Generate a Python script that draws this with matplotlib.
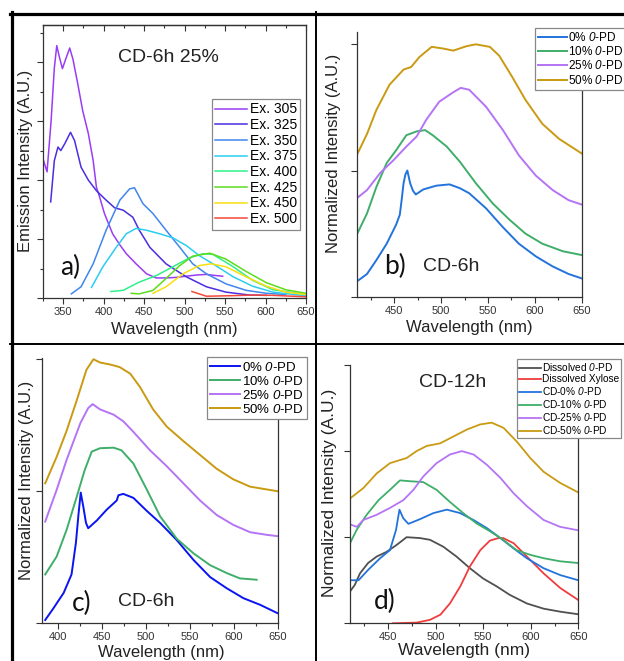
import matplotlib
matplotlib.use('Agg')
import matplotlib.pyplot as plt
from matplotlib.lines import Line2D
from matplotlib.ticker import MultipleLocator

plt.rcParams['font.family'] = ['Liberation Sans', 'DejaVu Sans']
plt.rcParams['mathtext.fontset'] = 'custom'
plt.rcParams['mathtext.rm'] = 'Liberation Sans:italic'
plt.rcParams['mathtext.it'] = 'Liberation Sans:italic'

# ---- panel a: excitation series, CD-6h 25% ----
ex_labels = ['Ex. 305', 'Ex. 325', 'Ex. 350', 'Ex. 375', 'Ex. 400', 'Ex. 425', 'Ex. 450', 'Ex. 500']
ex_colors = ['#9a3cf5', '#4a2ee0', '#3f86ee', '#2ccdf0', '#2ef08a', '#5cdc1e', '#f7df10', '#f4483a']

wl_305 = [325, 330, 335, 339, 342, 345, 349, 353, 358, 362, 368, 374, 381, 387, 391, 395, 401, 411, 420, 428, 440, 453, 465, 477, 490, 502, 515, 527, 539, 547]
em_305 = [2.36, 2.14, 3.0, 3.9, 4.28, 4.1, 3.89, 4.05, 4.24, 4.05, 3.63, 3.18, 2.79, 2.33, 1.88, 1.71, 1.43, 1.09, 0.9, 0.75, 0.58, 0.41, 0.34, 0.34, 0.35, 0.37, 0.39, 0.40, 0.38, 0.37]
wl_325 = [334.5, 339, 343.5, 347, 352, 359, 364, 372, 381, 391, 403, 413.5, 424, 436, 444, 457, 477, 502, 527, 551, 580, 601]
em_325 = [1.63, 2.33, 2.56, 2.50, 2.62, 2.81, 2.67, 2.22, 2.0, 1.82, 1.66, 1.53, 1.49, 1.37, 1.15, 0.86, 0.58, 0.36, 0.19, 0.10, 0.05, 0.045]
wl_350 = [360, 372, 387, 403, 420, 432, 438, 448.5, 461, 477, 494, 510, 527, 551, 576, 601, 625]
em_350 = [0.07, 0.19, 0.58, 1.15, 1.66, 1.85, 1.87, 1.60, 1.43, 1.15, 0.86, 0.58, 0.41, 0.24, 0.13, 0.08, 0.06]
wl_375 = [385, 399, 415.5, 428, 440, 452.6, 469, 485.5, 502, 518, 535, 560, 584, 609, 634, 650]
em_375 = [0.18, 0.53, 0.86, 1.09, 1.18, 1.15, 1.09, 1.02, 0.89, 0.72, 0.58, 0.36, 0.20, 0.10, 0.06, 0.04]
wl_400 = [409, 424, 444, 465, 485.5, 506, 522.5, 535, 560, 584, 609, 650]
em_400 = [0.11, 0.13, 0.27, 0.38, 0.53, 0.68, 0.75, 0.74, 0.53, 0.30, 0.14, 0.06]
wl_425 = [434, 444, 461, 477, 494, 510, 531, 551, 576, 601, 625, 650]
em_425 = [0.08, 0.07, 0.13, 0.33, 0.55, 0.71, 0.76, 0.66, 0.45, 0.26, 0.14, 0.08]
wl_450 = [461, 477, 498, 518, 533, 551, 576, 601, 625, 650]
em_450 = [0.08, 0.19, 0.41, 0.55, 0.58, 0.53, 0.36, 0.20, 0.10, 0.06]
wl_500 = [509, 518, 527, 560, 584, 609, 650]
em_500 = [0.11, 0.07, 0.03, 0.04, 0.05, 0.045, 0.02]

ex_wl = [wl_305, wl_325, wl_350, wl_375, wl_400, wl_425, wl_450, wl_500]
ex_em = [em_305, em_325, em_350, em_375, em_400, em_425, em_450, em_500]

# ---- shared o-PD series ----
pd_labels = [r'0% $0$-PD', r'10% $0$-PD', r'25% $0$-PD', r'50% $0$-PD']
pd_colors = ['#2373dc', '#3fae6a', '#b574f5', '#c99a12']

# ---- panel b: CD-6h ----
b_wl_0 = [410, 421, 431, 442, 452, 456, 458, 460, 462, 464, 467, 470, 473, 481, 495, 509, 520, 530, 548, 566, 583, 601, 619, 636, 650]
b_0 = [0.12, 0.18, 0.29, 0.42, 0.57, 0.65, 0.77, 0.90, 0.97, 1.00, 0.90, 0.84, 0.81, 0.85, 0.88, 0.89, 0.86, 0.82, 0.70, 0.55, 0.42, 0.32, 0.24, 0.18, 0.145]
b_wl_10 = [410, 421, 431, 442, 452, 463, 474, 483, 491, 506, 520, 537, 555, 573, 590, 608, 630, 650]
b_10 = [0.49, 0.66, 0.87, 1.06, 1.16, 1.28, 1.31, 1.32, 1.28, 1.19, 1.07, 0.90, 0.74, 0.61, 0.50, 0.42, 0.36, 0.33]
b_wl_25 = [410, 421, 435, 449, 463, 474, 484, 498, 513, 521, 530, 548, 566, 583, 601, 619, 636, 650]
b_25 = [0.78, 0.845, 0.98, 1.08, 1.19, 1.27, 1.40, 1.545, 1.62, 1.655, 1.64, 1.505, 1.32, 1.12, 0.96, 0.845, 0.765, 0.73]
b_wl_50 = [410, 421, 431, 445, 460, 468, 477, 490, 502, 513, 527, 537, 552, 562, 576, 590, 608, 626, 650]
b_50 = [1.12, 1.29, 1.48, 1.68, 1.80, 1.82, 1.90, 1.98, 1.967, 1.95, 1.985, 2.0, 1.98, 1.91, 1.74, 1.56, 1.37, 1.25, 1.135]

# ---- panel c: CD-6h ----
c_wl_0 = [385, 394, 406, 415, 420, 423, 425.5, 428.5, 431.5, 434, 444, 455, 466.5, 468.5, 474, 485.5, 501, 516, 535, 554, 573, 592, 611, 630, 650]
c_0 = [0.025, 0.11, 0.23, 0.37, 0.61, 0.83, 0.99, 0.88, 0.76, 0.72, 0.78, 0.86, 0.93, 0.97, 0.98, 0.95, 0.85, 0.76, 0.63, 0.48, 0.35, 0.265, 0.19, 0.14, 0.076]
c_wl_10 = [385, 398, 409.5, 421, 430, 438, 447.5, 463, 472, 485.5, 501, 516, 535, 554, 573, 592, 607, 626]
c_10 = [0.37, 0.505, 0.71, 0.96, 1.16, 1.30, 1.326, 1.33, 1.31, 1.21, 1.01, 0.81, 0.64, 0.53, 0.44, 0.38, 0.34, 0.33]
c_wl_25 = [385, 398, 409.5, 425, 434, 439, 447.5, 463, 474, 485.5, 504.5, 523.5, 542.5, 561.5, 580.5, 599.5, 618.5, 637.5, 650]
c_25 = [0.77, 1.01, 1.24, 1.515, 1.63, 1.66, 1.62, 1.58, 1.53, 1.45, 1.31, 1.19, 1.06, 0.93, 0.82, 0.745, 0.69, 0.67, 0.66]
c_wl_50 = [385, 398, 409.5, 421, 432, 440, 447.5, 459, 470, 482, 493, 508, 523.5, 542.5, 561.5, 580.5, 599.5, 618.5, 650]
c_50 = [1.06, 1.26, 1.46, 1.69, 1.92, 2.0, 1.975, 1.96, 1.94, 1.89, 1.79, 1.62, 1.49, 1.38, 1.275, 1.17, 1.09, 1.035, 1.0]

# ---- panel d: CD-12h ----
d_labels = [r'Dissolved $0$-PD', 'Dissolved Xylose', r'CD-0% $0$-PD', r'CD-10% $0$-PD', r'CD-25% $0$-PD', r'CD-50% $0$-PD']
d_colors = ['#505050', '#f03c3c', '#2373dc', '#3fae6a', '#b574f5', '#c99a12']
d_wl_opd = [410, 415, 420.5, 429, 438, 448.5, 459, 469.5, 483.5, 494, 508, 522, 536, 550, 564, 578, 596, 613.5, 631, 650]
d_opd = [0.37, 0.445, 0.58, 0.70, 0.775, 0.83, 0.91, 1.0, 0.99, 0.97, 0.89, 0.775, 0.64, 0.52, 0.43, 0.33, 0.23, 0.17, 0.135, 0.105]
d_wl_xyl = [455, 480, 494, 505, 515, 526, 536, 547, 557, 566, 571, 582, 596, 613.5, 631, 650]
d_xyl = [0.0, 0.008, 0.04, 0.10, 0.23, 0.43, 0.66, 0.85, 0.96, 0.99, 0.99, 0.93, 0.775, 0.58, 0.41, 0.27]
d_wl_0 = [410, 419, 429, 441.6, 452, 458.4, 462, 466, 471.4, 483.7, 497.7, 511.8, 525.8, 539.8, 554, 568, 582, 596, 613.5, 631, 650]
d_0 = [0.50, 0.50, 0.62, 0.755, 0.85, 1.085, 1.32, 1.22, 1.155, 1.21, 1.28, 1.32, 1.28, 1.20, 1.105, 0.99, 0.87, 0.755, 0.64, 0.56, 0.50]
d_wl_10 = [410, 417, 427.5, 440, 452, 462.6, 473, 487, 501, 515, 529, 543, 557, 571, 585, 599.5, 613.5, 631, 650]
d_10 = [0.93, 1.085, 1.26, 1.43, 1.55, 1.66, 1.65, 1.64, 1.55, 1.41, 1.28, 1.16, 1.07, 0.97, 0.85, 0.795, 0.756, 0.72, 0.70]
d_wl_25 = [410, 417, 424, 438, 452, 466, 476.7, 487, 501, 515, 527.5, 540, 554, 568, 582, 596, 613.5, 631, 650]
d_25 = [1.15, 1.12, 1.20, 1.26, 1.34, 1.43, 1.55, 1.705, 1.86, 1.96, 2.0, 1.96, 1.84, 1.69, 1.51, 1.36, 1.20, 1.12, 1.08]
d_wl_50 = [410, 424, 438, 452, 469.6, 480, 490.7, 504.7, 518.8, 532.8, 546.8, 559, 571.4, 585.4, 599.5, 613.5, 631, 650]
d_50 = [1.45, 1.57, 1.74, 1.86, 1.92, 2.0, 2.06, 2.09, 2.17, 2.25, 2.31, 2.33, 2.27, 2.11, 1.92, 1.76, 1.63, 1.52]

W, H = 624, 661
fig = plt.figure(figsize=(W / 100, H / 100), dpi=100)


def px_axes(l, t, r, b):
    return fig.add_axes([l / W, 1 - b / H, (r - l) / W, (b - t) / H])


def style(ax, xlim, ylim, ymajor):
    ax.set_xlim(*xlim)
    ax.set_ylim(*ylim)
    ax.xaxis.set_major_locator(MultipleLocator(50))
    ax.xaxis.set_minor_locator(MultipleLocator(25))
    ax.yaxis.set_major_locator(MultipleLocator(ymajor))
    ax.tick_params(axis='both', which='major', direction='out', length=4.5, width=0.8,
                   color='#333333', labelsize=8, labelcolor='#333333', pad=2, labelleft=False)
    ax.tick_params(axis='both', which='minor', direction='out', length=2.5, width=0.8, color='#333333')
    for s in ax.spines.values():
        s.set_linewidth(0.9)
        s.set_color('#333333')
    ax.spines['top'].set_visible(False)


def legend(ax, handles_labels, x, y, size, hl, ls, pad=0.25):
    lg = ax.legend(*handles_labels, loc='upper left', bbox_to_anchor=(x / W, 1 - y / H),
                   bbox_transform=fig.transFigure, borderaxespad=0, fontsize=size,
                   handlelength=hl, handletextpad=0.15, labelspacing=ls, borderpad=pad,
                   fancybox=False, framealpha=1, edgecolor='#888888')
    lg.get_frame().set_linewidth(0.9)
    return lg


def put_labels(ax, ylabel, ycoords, xcoords, size=12):
    ax.set_ylabel(ylabel, fontsize=size, color='#222222', va='center')
    ax.yaxis.set_label_coords(*ycoords)
    ax.set_xlabel('Wavelength (nm)', fontsize=size, color='#222222', va='center')
    ax.xaxis.set_label_coords(*xcoords)


# panel a
ax = px_axes(43, 25, 306, 298)
for wl, em, c, lab in zip(ex_wl, ex_em, ex_colors, ex_labels):
    ax.plot(wl, em, color=c, lw=1.1, label=lab)
style(ax, (325, 650), (0, 4.63), 1)
ax.yaxis.set_minor_locator(MultipleLocator(0.5))
ax.spines['top'].set_visible(True)
top = ax.secondary_xaxis('top')
top.xaxis.set_major_locator(MultipleLocator(50))
top.xaxis.set_minor_locator(MultipleLocator(25))
top.tick_params(which='both', direction='in', labeltop=False, color='#333333', width=0.8)
top.tick_params(which='major', length=4.5)
top.tick_params(which='minor', length=2.5)
top.spines['top'].set_linewidth(0.9)
top.spines['top'].set_color('#333333')
put_labels(ax, 'Emission Intensity (A.U.)', (-0.065, 0.502), (0.498, -0.114))
legend(ax, ax.get_legend_handles_labels(), 212, 99, 10, 2.3, 0.12)
ax.text(168 / W, 1 - 57 / H, 'CD-6h 25%', transform=fig.transFigure, fontsize=14,
        ha='center', va='center', color='#222222')
ax.text(70 / W, 1 - 267 / H, 'a)', transform=fig.transFigure, fontsize=19,
        ha='center', va='center', family='Lato', color='#111111')

# panel b
ax = px_axes(356.7, 31.7, 581.7, 296.7)
for wl, y, c, lab in zip([b_wl_0, b_wl_10, b_wl_25, b_wl_50], [b_0, b_10, b_25, b_50], pd_colors, pd_labels):
    ax.plot(wl, y, color=c, lw=1.4, label=lab)
style(ax, (410, 650), (0, 2.1), 1)
put_labels(ax, 'Normalized Intensity (A.U.)', (-0.101, 0.541), (0.5, -0.116))
legend(ax, ax.get_legend_handles_labels(), 535.3, 27.7, 8.5, 2.4, 0.12)
ax.text(395 / W, 1 - 266 / H, 'b)', transform=fig.transFigure, fontsize=19,
        ha='center', va='center', family='Lato', color='#111111')
ax.text(451 / W, 1 - 267 / H, 'CD-6h', transform=fig.transFigure, fontsize=14,
        ha='center', va='center', color='#222222')

# panel c
ax = px_axes(41.7, 358.3, 277.7, 623.3)
c_colors = ['#0a14f0'] + pd_colors[1:]
for wl, y, c, lab in zip([c_wl_0, c_wl_10, c_wl_25, c_wl_50], [c_0, c_10, c_25, c_50], c_colors, pd_labels):
    ax.plot(wl, y, color=c, lw=1.4, label=lab)
style(ax, (381, 650), (0, 2.007), 1)
put_labels(ax, 'Normalized Intensity (A.U.)', (-0.064, 0.538), (0.505, -0.110))
legend(ax, ax.get_legend_handles_labels(), 206.7, 357.3, 9.5, 2.3, 0.08)
ax.text(82 / W, 1 - 603 / H, 'c)', transform=fig.transFigure, fontsize=19,
        ha='center', va='center', family='Lato', color='#111111')
ax.text(146 / W, 1 - 602 / H, 'CD-6h', transform=fig.transFigure, fontsize=14,
        ha='center', va='center', color='#222222')

# panel d
ax = px_axes(350, 365, 578.3, 623.3)
d_wl = [d_wl_opd, d_wl_xyl, d_wl_0, d_wl_10, d_wl_25, d_wl_50]
d_y = [d_opd, d_xyl, d_0, d_10, d_25, d_50]
for wl, y, c, lab in zip(d_wl, d_y, d_colors, d_labels):
    ax.plot(wl, y, color=c, lw=1.3, label=lab)
style(ax, (410, 650), (0, 3.0), 1)
put_labels(ax, 'Normalized Intensity (A.U.)', (-0.089, 0.504), (0.5, -0.106), size=12.5)
legend(ax, ax.get_legend_handles_labels(), 517.3, 359.3, 7.3, 2.1, 0.1, pad=0.2)
ax.text(452.5 / W, 1 - 382.5 / H, 'CD-12h', transform=fig.transFigure, fontsize=14,
        ha='center', va='center', color='#222222')
ax.text(385 / W, 1 - 601 / H, 'd)', transform=fig.transFigure, fontsize=19,
        ha='center', va='center', family='Lato', color='#111111')

# panel frame lines
frame = [((10, 13.5), (624, 13.5), 2.3), ((11.5, 12), (11.5, 661), 2.3),
         ((315.5, 12), (315.5, 661), 1.4), ((10, 344), (624, 344), 1.4)]
for (x0, y0), (x1, y1), lw in frame:
    fig.add_artist(Line2D([x0 / W, x1 / W], [1 - y0 / H, 1 - y1 / H],
                          transform=fig.transFigure, color='black', lw=lw))

fig.savefig('out.png', dpi=100)
